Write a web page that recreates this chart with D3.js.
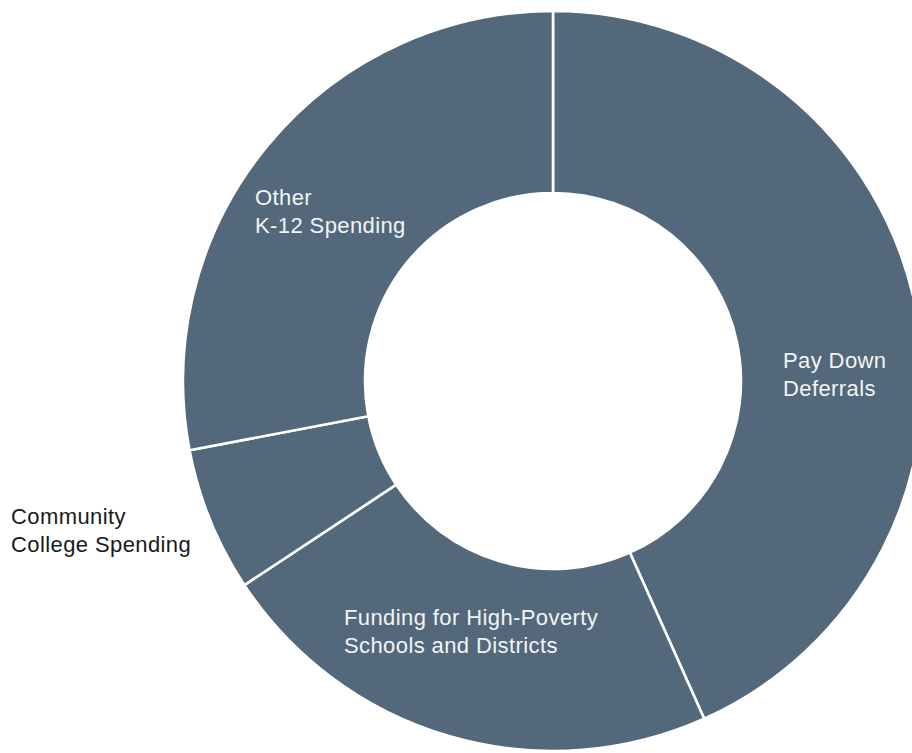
<!DOCTYPE html>
<html>
<head>
<meta charset="utf-8">
<script src="https://cdn.jsdelivr.net/npm/d3@7"></script>
<style>
  html, body { margin: 0; padding: 0; background: #ffffff; }
  svg { display: block; }
  text { font-family: "Liberation Sans", Arial, Helvetica, sans-serif; }
</style>
</head>
<body>
<svg id="chart" width="912" height="753"></svg>
<script>
// Share of new Proposition 98 spending, by use (percent)
const categories = [
  "Pay Down Deferrals",
  "Funding for High-Poverty Schools and Districts",
  "Community College Spending",
  "Other K-12 Spending"
];
const shares = [43.3, 22.4, 6.3, 28.0];

// Label text lines for each slice
const labelLines = [
  ["Pay Down", "Deferrals"],
  ["Funding for High-Poverty", "Schools and Districts"],
  ["Community", "College Spending"],
  ["Other", "K-12 Spending"]
];

// Layout
const width = 912, height = 753;
const cx = 553, cy = 381;
const innerR = 188, outerR = 370;
const fill = "#53687a";

// Label anchor points (left edge, first baseline) and colour
const labelLayout = [
  { x: 783, y: 368, color: "#f2f4f5" },
  { x: 344, y: 625, color: "#f2f4f5" },
  { x: 11,  y: 524, color: "#1a1a1a" },
  { x: 255, y: 205, color: "#f2f4f5" }
];

const data = categories.map((c, i) => ({ category: c, value: shares[i], index: i }));

const svg = d3.select("#chart");

const pie = d3.pie()
  .sort(null)
  .value(d => d.value)
  .startAngle(0)
  .endAngle(2 * Math.PI);

const arc = d3.arc()
  .innerRadius(innerR)
  .outerRadius(outerR);

const g = svg.append("g").attr("transform", `translate(${cx},${cy})`);

g.selectAll("path.slice")
  .data(pie(data))
  .join("path")
  .attr("class", "slice")
  .attr("d", arc)
  .attr("fill", fill)
  .attr("stroke", "#ffffff")
  .attr("stroke-width", 2.6)
  .attr("stroke-linejoin", "miter");

// Slice labels
const labels = svg.append("g").attr("class", "labels");
data.forEach((d, i) => {
  const pos = labelLayout[i];
  const t = labels.append("text")
    .attr("x", pos.x)
    .attr("y", pos.y)
    .attr("fill", pos.color)
    .attr("font-size", 22)
    .attr("letter-spacing", 0.4);
  labelLines[i].forEach((line, j) => {
    t.append("tspan")
      .attr("x", pos.x)
      .attr("dy", j === 0 ? 0 : 28)
      .text(line);
  });
});
</script>
</body>
</html>
